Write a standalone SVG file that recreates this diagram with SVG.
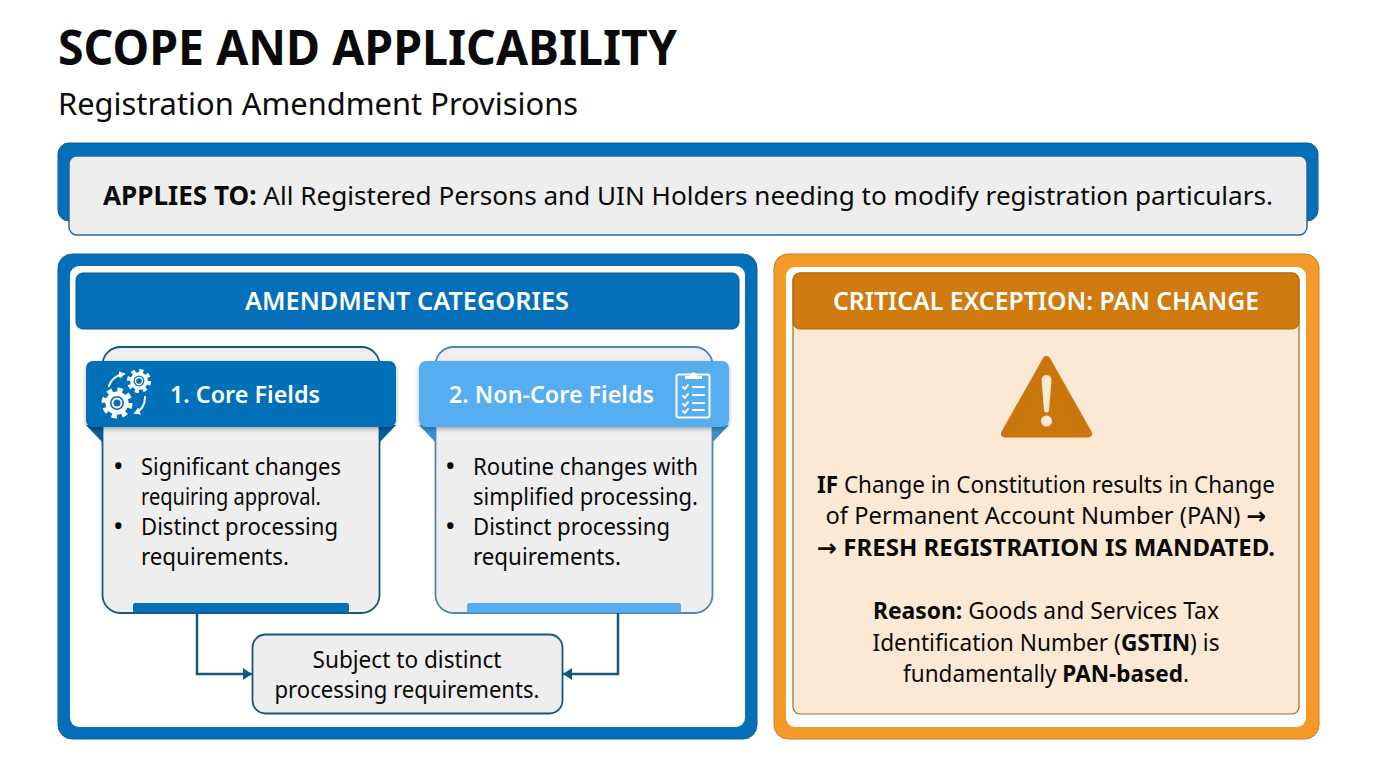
<svg xmlns="http://www.w3.org/2000/svg" width="1376" height="768" viewBox="0 0 1376 768">
<style>
text{font-family:"Noto Sans","Open Sans","Liberation Sans",sans-serif;fill:#0a0a0a}
.b{font-weight:700}
.w{fill:#fff;font-weight:600}
.m{text-anchor:middle}
.t{font-size:23.5px}
.h{font-size:25.5px}
.bu{font-size:28px}
.ar{font-family:"DejaVu Sans",sans-serif;font-weight:700}
.card{fill:#eeeeee}
.conn{fill:none;stroke:#15577f;stroke-width:2.5}
.ic{fill:none;stroke:#fff;stroke-width:2;stroke-linecap:round;stroke-linejoin:round}
</style>
<defs>
<marker id="arr" markerUnits="userSpaceOnUse" markerWidth="10" markerHeight="12" refX="9" refY="6" orient="auto"><path d="M0 0L9 6L0 12Z" fill="#15577f"/></marker>
<marker id="ia" markerUnits="userSpaceOnUse" markerWidth="8" markerHeight="8" refX="5" refY="4" orient="auto"><path d="M0 0L6 4L0 8Z" fill="#fff"/></marker>
<filter id="sh" x="-5%" y="-20%" width="110%" height="140%"><feDropShadow dx="0" dy="2" stdDeviation="2" flood-color="#000" flood-opacity=".3"/></filter>
<g id="gear"><circle r="13" fill="none" stroke="#fff" stroke-width="5" stroke-dasharray="5.200 5"/><circle r="11.500" fill="#fff"/><circle r="7" fill="#0a6db5"/><circle r="4.500" fill="none" stroke="#fff" stroke-width="1.800"/></g>
</defs>
<rect width="1376" height="768" fill="#fff"/>
<g id="title">
<text x="58" y="65" class="b" font-size="48" textLength="619" lengthAdjust="spacingAndGlyphs">SCOPE AND APPLICABILITY</text>
<text x="58" y="115" font-size="30" textLength="520" lengthAdjust="spacingAndGlyphs">Registration Amendment Provisions</text>
</g>
<g id="applies">
<rect x="58" y="143" width="1260" height="78" rx="11" fill="#066fb9" stroke="#0f5f99"/>
<rect x="69" y="156" width="1238" height="79" rx="8" fill="#eeeeee" stroke="#1c6c9f" stroke-width="1.500"/>
<text x="103" y="205" font-size="26" textLength="1170" lengthAdjust="spacingAndGlyphs"><tspan class="b">APPLIES TO:</tspan> All Registered Persons and UIN Holders needing to modify registration particulars.</text>
</g>
<g id="categories">
<rect x="58" y="254" width="699" height="485" rx="14" fill="#066fb9" stroke="#0f5f99"/>
<rect x="70" y="266" width="675" height="461" rx="9" fill="#fff"/>
<rect x="76" y="273" width="663" height="56" rx="7" fill="#066fb9" stroke="#0f5580"/>
<text x="407" y="310" class="w m h" textLength="324" lengthAdjust="spacingAndGlyphs">AMENDMENT CATEGORIES</text>
</g>
<g id="core">
<rect x="102.500" y="347" width="277" height="266" rx="18" class="card" stroke="#15577f" stroke-width="1.800"/>
<path d="M86 425L103 443V425ZM396 425L379 443V425Z" fill="#0a5a94"/>
<rect x="86" y="361" width="310" height="66" rx="7" fill="#066fb9" filter="url(#sh)"/>
<rect x="133" y="603" width="216" height="9.500" rx="2" fill="#066fb9"/>
<use href="#gear" transform="translate(117 403)"/>
<use href="#gear" transform="translate(139 381) scale(.78)"/>
<path class="ic" d="M109 386Q112 376 124 374" marker-end="url(#ia)"/>
<path class="ic" d="M145 397Q145 409 135 413" marker-end="url(#ia)"/>
<text x="170" y="403" class="w" font-size="24" textLength="150" lengthAdjust="spacingAndGlyphs">1. Core Fields</text>
<g class="t">
<text x="113" y="476" class="bu">•</text><text x="141" y="475" textLength="200" lengthAdjust="spacingAndGlyphs">Significant changes</text>
<text x="141" y="505" textLength="180" lengthAdjust="spacingAndGlyphs">requiring approval.</text>
<text x="113" y="536" class="bu">•</text><text x="141" y="535" textLength="197" lengthAdjust="spacingAndGlyphs">Distinct processing</text>
<text x="141" y="565" textLength="148" lengthAdjust="spacingAndGlyphs">requirements.</text>
</g>
</g>
<g id="noncore">
<rect x="435.500" y="347" width="277" height="266" rx="18" class="card" stroke="#4d86b3" stroke-width="1.800"/>
<path d="M419 425L436 443V425ZM729 425L712 443V425Z" fill="#3f8fcf"/>
<rect x="419" y="361" width="310" height="66" rx="7" fill="#56adef" filter="url(#sh)"/>
<rect x="467" y="603" width="214" height="9.500" rx="2" fill="#56adef"/>
<rect x="676.500" y="374.500" width="33" height="43" rx="2" class="ic"/>
<path d="M685 379v-3h5a3.500 3.500 0 0 1 7 0h5v3Z" fill="#fff"/>
<path class="ic" d="M683 387l2 2 3-4M683 396l2 2 3-4M683 404l2 2 3-4M683 411l2 2 3-4M693 387h11M693 395h11M693 403h11M693 410h11"/>
<text x="449" y="403" class="w" font-size="24" textLength="205" lengthAdjust="spacingAndGlyphs">2. Non-Core Fields</text>
<g class="t">
<text x="445" y="476" class="bu">•</text><text x="473" y="475" textLength="225" lengthAdjust="spacingAndGlyphs">Routine changes with</text>
<text x="473" y="505" textLength="225" lengthAdjust="spacingAndGlyphs">simplified processing.</text>
<text x="445" y="536" class="bu">•</text><text x="473" y="535" textLength="197" lengthAdjust="spacingAndGlyphs">Distinct processing</text>
<text x="473" y="565" textLength="148" lengthAdjust="spacingAndGlyphs">requirements.</text>
</g>
</g>
<g id="subject">
<rect x="252.500" y="634.500" width="310" height="79" rx="13" class="card" stroke="#15577f" stroke-width="1.800"/>
<text x="407" y="668" class="m t" textLength="189" lengthAdjust="spacingAndGlyphs">Subject to distinct</text>
<text x="407" y="698" class="m t" textLength="265" lengthAdjust="spacingAndGlyphs">processing requirements.</text>
</g>
<g id="exception">
<rect x="774" y="254" width="545" height="485" rx="14" fill="#f39a2b" stroke="#c9801f"/>
<rect x="786" y="267" width="520" height="460" rx="9" fill="#fff"/>
<rect x="793" y="273" width="506" height="441" rx="7" fill="#fbe9d5" stroke="#9a6a20" stroke-width="1.200"/>
<rect x="793" y="273" width="506" height="56" rx="7" fill="#d17a0d" stroke="#a5660f"/>
<text x="1046" y="310" class="w m h" textLength="426" lengthAdjust="spacingAndGlyphs">CRITICAL EXCEPTION: PAN CHANGE</text>
<path d="M1046.500 360L1088 433.500H1005Z" fill="#c9760d" stroke="#c9760d" stroke-width="8" stroke-linejoin="round"/>
<path d="M1041.500 380a5 5 0 0 1 10 0L1049 410a2.500 2.500 0 0 1-5 0Z" fill="#fbe9d5"/>
<circle cx="1046.500" cy="421" r="5.500" fill="#fbe9d5"/>
<text x="1046" y="493" class="m t" textLength="458" lengthAdjust="spacingAndGlyphs"><tspan class="b">IF</tspan> Change in Constitution results in Change</text>
<text x="1046" y="524" class="m t" textLength="441" lengthAdjust="spacingAndGlyphs">of Permanent Account Number (PAN) <tspan class="ar">→</tspan></text>
<text x="1046" y="556" class="m t" textLength="458" lengthAdjust="spacingAndGlyphs"><tspan class="ar">→</tspan> <tspan class="b">FRESH REGISTRATION IS MANDATED.</tspan></text>
<text x="1046" y="619" class="m t" textLength="346" lengthAdjust="spacingAndGlyphs"><tspan class="b">Reason:</tspan> Goods and Services Tax</text>
<text x="1046" y="651" class="m t" textLength="347" lengthAdjust="spacingAndGlyphs">Identification Number (<tspan class="b">GSTIN</tspan>) is</text>
<text x="1046" y="682" class="m t" textLength="286" lengthAdjust="spacingAndGlyphs">fundamentally <tspan class="b">PAN-based</tspan>.</text>
</g>
<g id="connectors">
<path class="conn" d="M197 613V674H252" marker-end="url(#arr)"/>
<path class="conn" d="M618 613V674H563" marker-end="url(#arr)"/>
</g>
</svg>
